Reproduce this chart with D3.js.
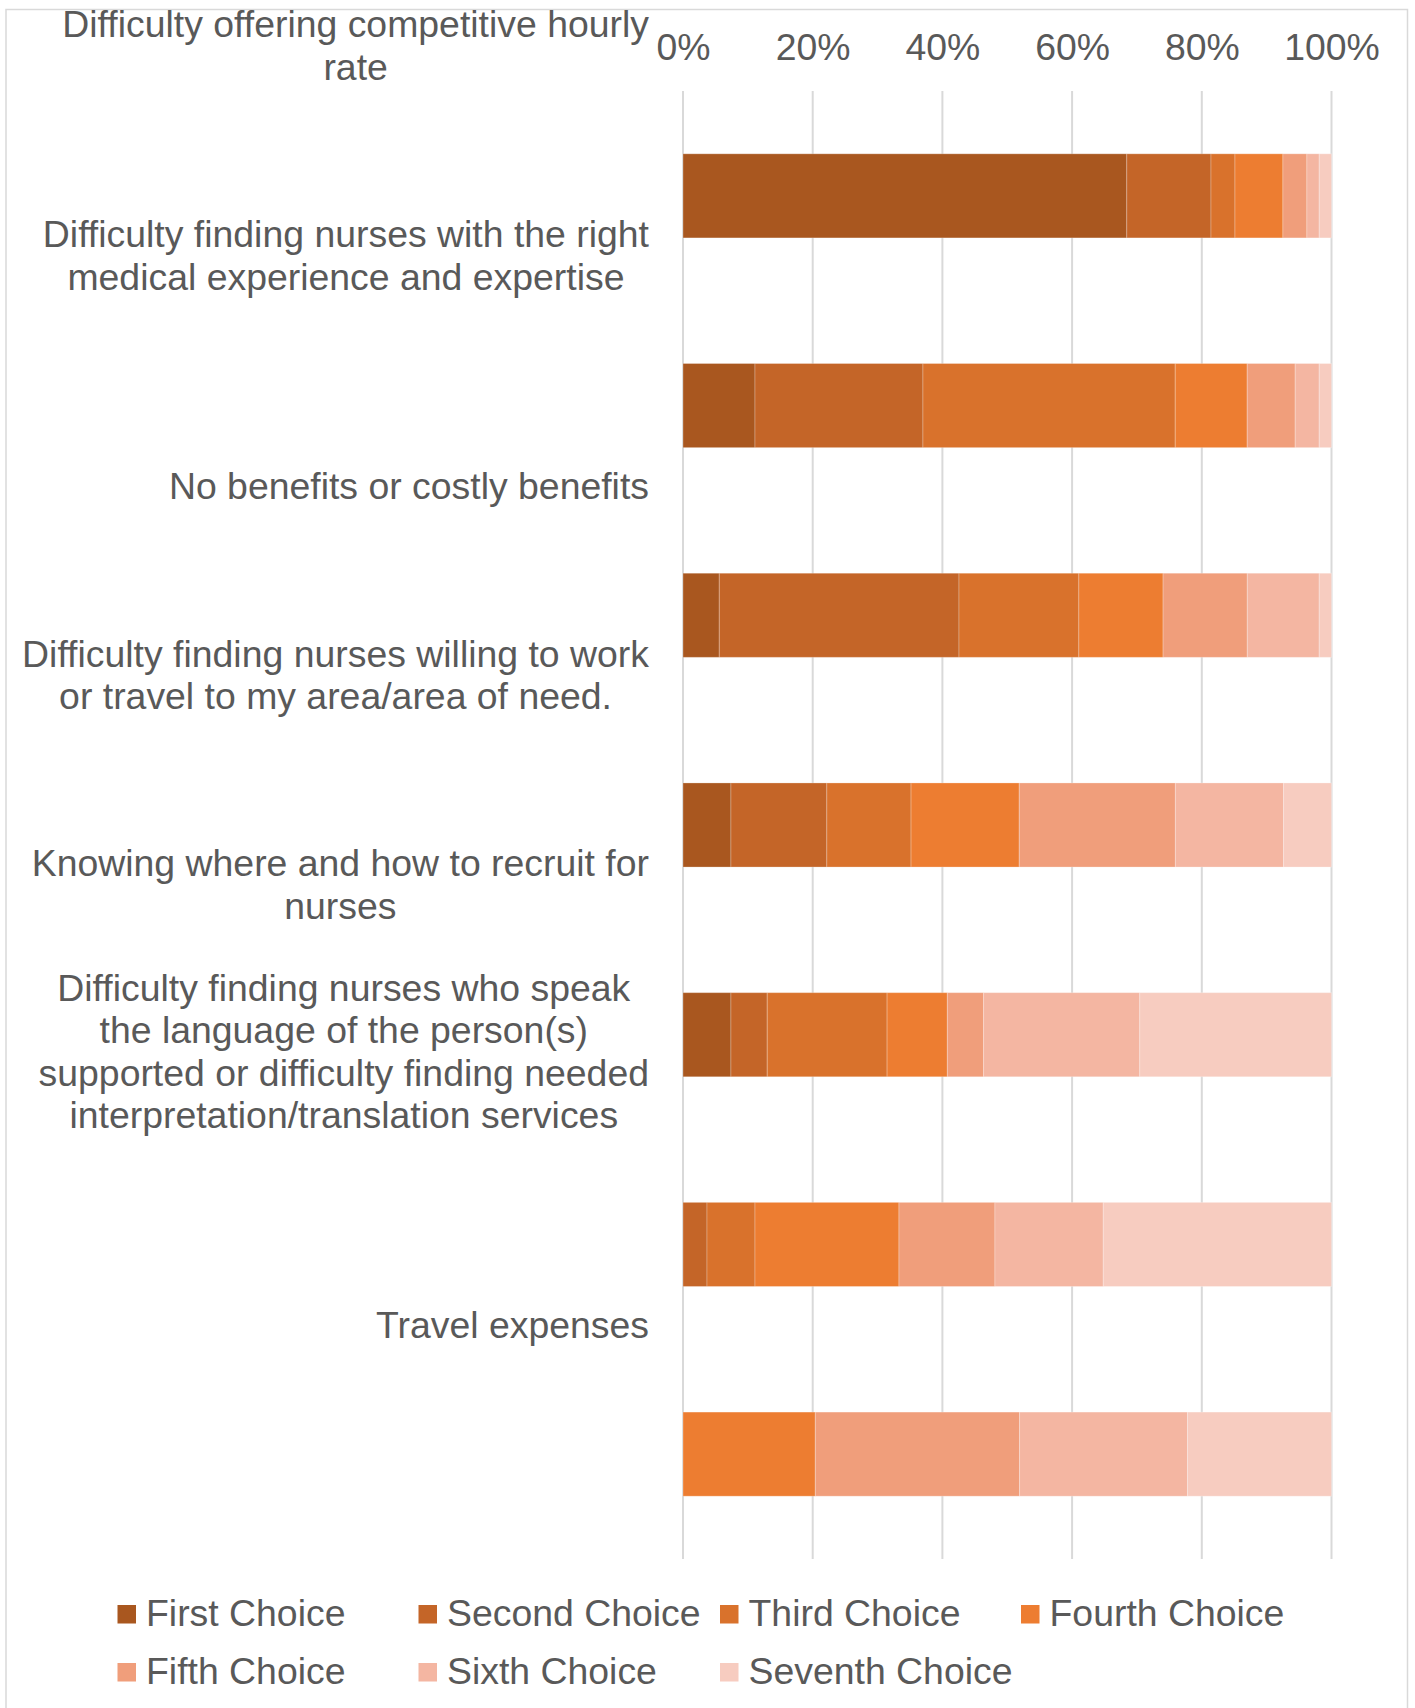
<!DOCTYPE html>
<html>
<head>
<meta charset="utf-8">
<script src="https://cdn.jsdelivr.net/npm/d3@7"></script>
<style>
  html, body { margin: 0; padding: 0; background: #fff; }
  svg { display: block; }
  text { font-family: "Liberation Sans", Arial, sans-serif; fill: #595959; }
</style>
</head>
<body>
<svg id="chart" width="1415" height="1708"></svg>
<script>
// ---- data (percent of respondents) ----
const categories = [
  "Difficulty offering competitive hourly\nrate",
  "Difficulty finding nurses with the right\nmedical experience and expertise",
  "No benefits or costly benefits",
  "Difficulty finding nurses willing to work\nor travel to my area/area of need.",
  "Knowing where and how to recruit for\nnurses",
  "Difficulty finding nurses who speak\nthe language of the person(s)\nsupported or difficulty finding needed\ninterpretation/translation services",
  "Travel expenses"
];
const seriesNames = ["First Choice", "Second Choice", "Third Choice", "Fourth Choice",
                     "Fifth Choice", "Sixth Choice", "Seventh Choice"];
const firstChoice   = [68.5, 11.1,  5.6,  7.4,  7.4,  0.0,  0.0];
const secondChoice  = [13.0, 25.9, 37.0, 14.8,  5.6,  3.7,  0.0];
const thirdChoice   = [ 3.7, 38.9, 18.5, 13.0, 18.5,  7.4,  0.0];
const fourthChoice  = [ 7.4, 11.1, 13.0, 16.7,  9.3, 22.2, 20.4];
const fifthChoice   = [ 3.7,  7.4, 13.0, 24.1,  5.6, 14.8, 31.5];
const sixthChoice   = [ 1.9,  3.7, 11.1, 16.7, 24.1, 16.7, 25.9];
const seventhChoice = [ 1.9,  1.9,  1.9,  7.4, 29.6, 35.2, 22.2];
const seriesValues = [firstChoice, secondChoice, thirdChoice, fourthChoice,
                      fifthChoice, sixthChoice, seventhChoice];
const tickValues = [0, 0.2, 0.4, 0.6, 0.8, 1.0];
const colors = ["#A9571F", "#C46528", "#D9722C", "#ED7D31", "#F09E7B", "#F4B6A2", "#F7CCC0"];

// ---- build table ----
const table = categories.map((c, i) => {
  const row = { category: c };
  seriesNames.forEach((s, j) => { row[s] = seriesValues[j][i]; });
  return row;
});

const svg = d3.select("#chart");
const FONT = 37.4;
const LINE = 42.5;

// chart border
svg.append("rect")
  .attr("x", 6).attr("y", 9.5)
  .attr("width", 1401.5).attr("height", 1720)
  .attr("fill", "none").attr("stroke", "#D9D9D9").attr("stroke-width", 1.5);

const x = d3.scaleLinear().domain([0, 1]).range([683, 1331.5]);
const y = d3.scaleBand().domain(categories).range([91, 1559])
  .paddingInner(0.599).paddingOuter(0.2995);

// gridlines
svg.append("g").selectAll("line").data(tickValues).join("line")
  .attr("x1", d => x(d)).attr("x2", d => x(d))
  .attr("y1", 91).attr("y2", 1559)
  .attr("stroke", "#D9D9D9").attr("stroke-width", 2);

// top axis labels
const axis = svg.append("g").attr("transform", "translate(0,91)")
  .call(d3.axisTop(x).tickValues(tickValues).tickFormat(d3.format(".0%"))
        .tickSize(0).tickPadding(31.5));
axis.select(".domain").remove();
axis.selectAll("text")
  .attr("font-size", FONT)
  .attr("font-family", "Liberation Sans, Arial, sans-serif")
  .attr("fill", "#595959");

// stacked bars
const stack = d3.stack().keys(seriesNames).offset(d3.stackOffsetExpand);
const layers = stack(table);
svg.append("g").selectAll("g").data(layers).join("g")
  .attr("fill", (d, i) => colors[i])
  .selectAll("rect").data(d => d.filter(p => p[1] - p[0] > 0)).join("rect")
  .attr("x", d => x(d[0]))
  .attr("width", d => x(d[1]) - x(d[0]))
  .attr("y", d => y(d.data.category))
  .attr("height", y.bandwidth())
  .attr("stroke", "#ffffff").attr("stroke-opacity", 0.25).attr("stroke-width", 1);

// category labels (block of centred lines, right edge at 649, last line above its bar)
const labelRight = 649;
const lg = svg.append("g");
categories.forEach(c => {
  const lines = c.split("\n");
  const lastBaseline = y(c) + y.bandwidth() / 2 - 116;
  const t = lg.append("text")
    .attr("font-size", FONT)
    .attr("text-anchor", "middle");
  lines.forEach((ln, k) => {
    t.append("tspan")
      .attr("x", 0)
      .attr("y", lastBaseline - (lines.length - 1 - k) * LINE)
      .text(ln);
  });
  let maxW = 0;
  t.selectAll("tspan").each(function () {
    maxW = Math.max(maxW, this.getComputedTextLength());
  });
  t.selectAll("tspan").attr("x", labelRight - maxW / 2);
});

// legend
const legendX = [117.5, 418.5, 720, 1021];
const legendBase = [1626, 1684];
const leg = svg.append("g");
seriesNames.forEach((s, i) => {
  const col = i % 4, row = Math.floor(i / 4);
  const g = leg.append("g");
  g.append("rect")
    .attr("x", legendX[col]).attr("y", legendBase[row] - 21)
    .attr("width", 18.5).attr("height", 18.5)
    .attr("fill", colors[i]);
  g.append("text")
    .attr("x", legendX[col] + 28.5).attr("y", legendBase[row])
    .attr("font-size", FONT)
    .text(s);
});
</script>
</body>
</html>
